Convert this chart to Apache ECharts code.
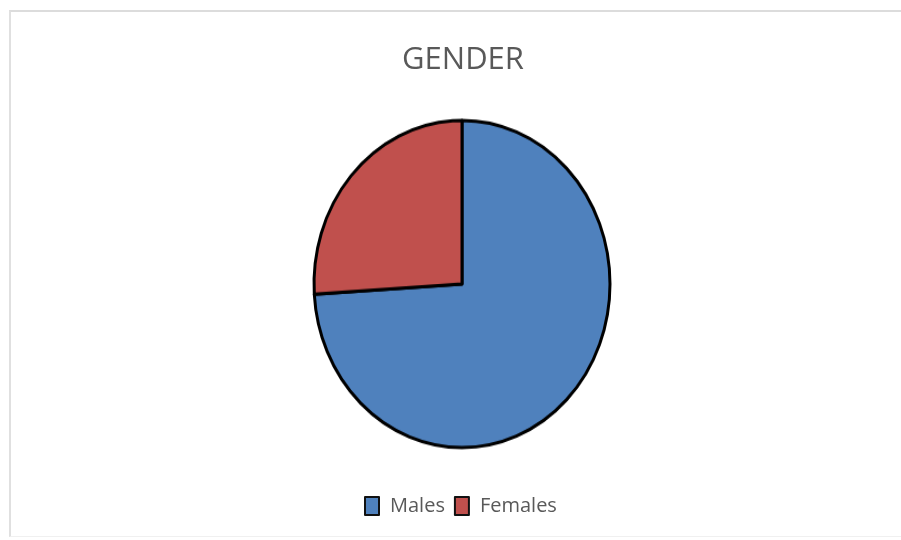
<!DOCTYPE html>
<html>
<head>
<meta charset="utf-8">
<script src="https://cdn.jsdelivr.net/npm/echarts@6/dist/echarts.min.js"></script>
<style>
html,body{margin:0;padding:0;background:#fff;overflow:hidden;}
#frame{position:absolute;left:9px;top:10px;width:1000px;height:527px;border-top:2px solid #dcdcdc;border-left:2px solid #e0e0e0;border-bottom:1px solid #f0f0f0;box-sizing:border-box;}
#chart{position:absolute;left:0;top:0;width:901px;height:540px;}
#pie{position:absolute;left:0;top:0;width:901px;height:540px;transform-origin:462px 284px;transform:scaleY(1.105);}
</style>
</head>
<body>
<div id="frame"></div>
<div id="pie"></div>
<div id="chart"></div>
<script>
const titleText = "GENDER";
const categories = ["Males", "Females"];
const values = [74, 26];
const colors = ["#4F81BD", "#C0504D"];

const dataItems = categories.map((c, i) => ({name: c, value: values[i], itemStyle: {color: colors[i]}}));

// Pie (drawn in a vertically stretched layer to reproduce the elliptical pie)
const pie = echarts.init(document.getElementById('pie'), null, {renderer: 'canvas'});
pie.setOption({
  animation: false,
  series: [{
    type: 'pie',
    center: [462, 284],
    radius: 148,
    startAngle: 90,
    clockwise: true,
    silent: true,
    label: {show: false},
    labelLine: {show: false},
    itemStyle: {borderColor: '#000', borderWidth: 3},
    data: dataItems
  }]
});

// Title + legend layer
const chart = echarts.init(document.getElementById('chart'), null, {renderer: 'canvas'});
chart.setOption({
  animation: false,
  backgroundColor: 'transparent',
  title: {
    text: titleText,
    left: 458, top: 40, textAlign: 'center',
    textStyle: {fontFamily: 'Open Sans', fontWeight: 'normal', fontSize: 31, color: '#595959'}
  },
  legend: {
    data: categories,
    left: 359, top: 491,
    itemWidth: 14, itemHeight: 18, itemGap: 9,
    icon: 'rect',
    textStyle: {fontFamily: 'Open Sans', fontSize: 20, color: '#595959', padding: [0, 0, 0, 6]},
    itemStyle: {borderColor: '#111', borderWidth: 2}
  },
  series: [{
    type: 'pie',
    center: [462, 284],
    radius: 0,
    silent: true,
    label: {show: false},
    labelLine: {show: false},
    itemStyle: {borderWidth: 0},
    data: dataItems
  }]
});
</script>
</body>
</html>
